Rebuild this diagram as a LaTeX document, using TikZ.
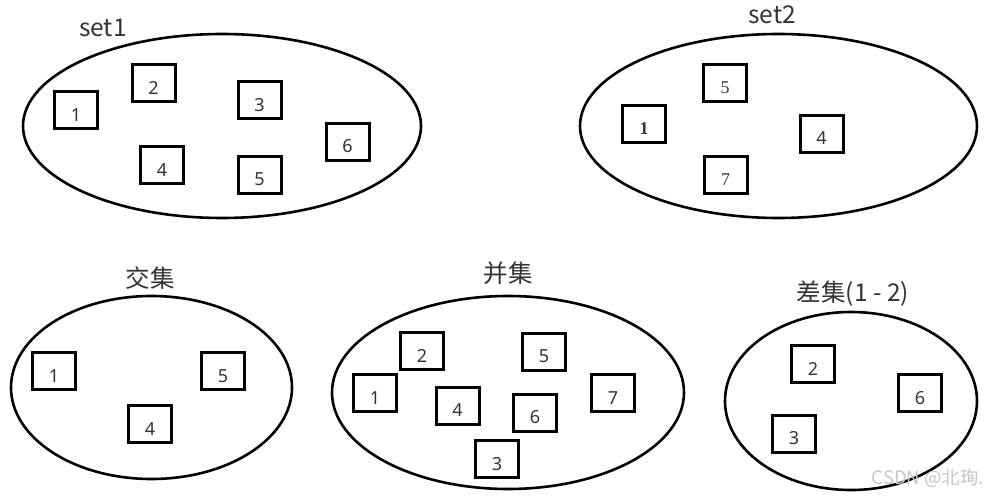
\documentclass[tikz,border=0pt]{standalone}
\usepackage{fontspec}
\setmainfont{Noto Sans}
\newfontfamily\cjk{Noto Sans CJK SC}
\newfontfamily\serifd{Liberation Serif}
\newcommand{\dg}[1]{\raisebox{-11pt}[0pt][0pt]{#1}}
\begin{document}
\begin{tikzpicture}[x=1pt,y=-1pt,
  setell/.style={draw=black,line width=2.6pt},
  elem/.style={draw=black,line width=3pt,minimum width=43pt,minimum height=37pt,inner sep=0pt,
     text=black!80,font=\fontsize{18}{18}\selectfont,anchor=center},
  ttl/.style={font=\cjk\fontsize{24.5}{24.5}\selectfont,text=black!80,inner sep=0pt}]
\useasboundingbox[fill=white] (0,0) rectangle (990,497);
% set1
\draw[setell] (222,126) ellipse [x radius=199,y radius=92];
\node[ttl] (t1) at (103,28) {set1};
\node[elem] (a1) at (76,110.5) {\dg{1}};
\node[elem] (a2) at (153.5,83.5) {\dg{2}};
\node[elem] (a3) at (259.5,100.5) {\dg{3}};
\node[elem] (a4) at (162,165.5) {\dg{4}};
\node[elem] (a5) at (259.5,175) {\dg{5}};
\node[elem] (a6) at (347.5,142) {\dg{6}};
% set2
\draw[setell] (778.5,126) ellipse [x radius=198.5,y radius=92];
\node[ttl] (t2) at (772,15) {set2};
\node[elem] (b1) at (644,124) {\dg{\serifd\bfseries 1}};
\node[elem] (b5) at (725,83) {\dg{\serifd 5}};
\node[elem] (b4) at (821.5,134) {\dg{4}};
\node[elem] (b7) at (725.5,175) {\dg{\serifd 7}};
% intersection
\draw[setell] (151.5,387.5) ellipse [x radius=140.5,y radius=91.5];
\node[ttl] (t3) at (150,278) {交集};
\node[elem] (c1) at (54,371) {\dg{1}};
\node[elem] (c5) at (223,371) {\dg{5}};
\node[elem] (c4) at (150,424) {\dg{4}};
% union
\draw[setell] (508,392.5) ellipse [x radius=176,y radius=96.5];
\node[ttl] (t4) at (508,273) {并集};
\node[elem] (d2) at (422,351) {\dg{2}};
\node[elem] (d1) at (375,393) {\dg{1}};
\node[elem] (d4) at (457.5,405.5) {\dg{4}};
\node[elem] (d5) at (544,351.5) {\dg{5}};
\node[elem] (d6) at (535,412.5) {\dg{6}};
\node[elem] (d7) at (613,393) {\dg{7}};
\node[elem] (d3) at (497,459) {\dg{3}};
% difference
\draw[setell] (851,401) ellipse [x radius=126,y radius=89];
\node[ttl] (t5) at (853,294) {差集(1 - 2)};
\node[elem] (e2) at (813,364) {\dg{2}};
\node[elem] (e6) at (920,393) {\dg{6}};
\node[elem] (e3) at (794,433.5) {\dg{3}};
% watermark
\node[font=\cjk\fontsize{18.5}{18.5}\selectfont,text=black!22,inner sep=0pt] (wm) at (928,478) {CSDN @北珣.};
\end{tikzpicture}
\end{document}
